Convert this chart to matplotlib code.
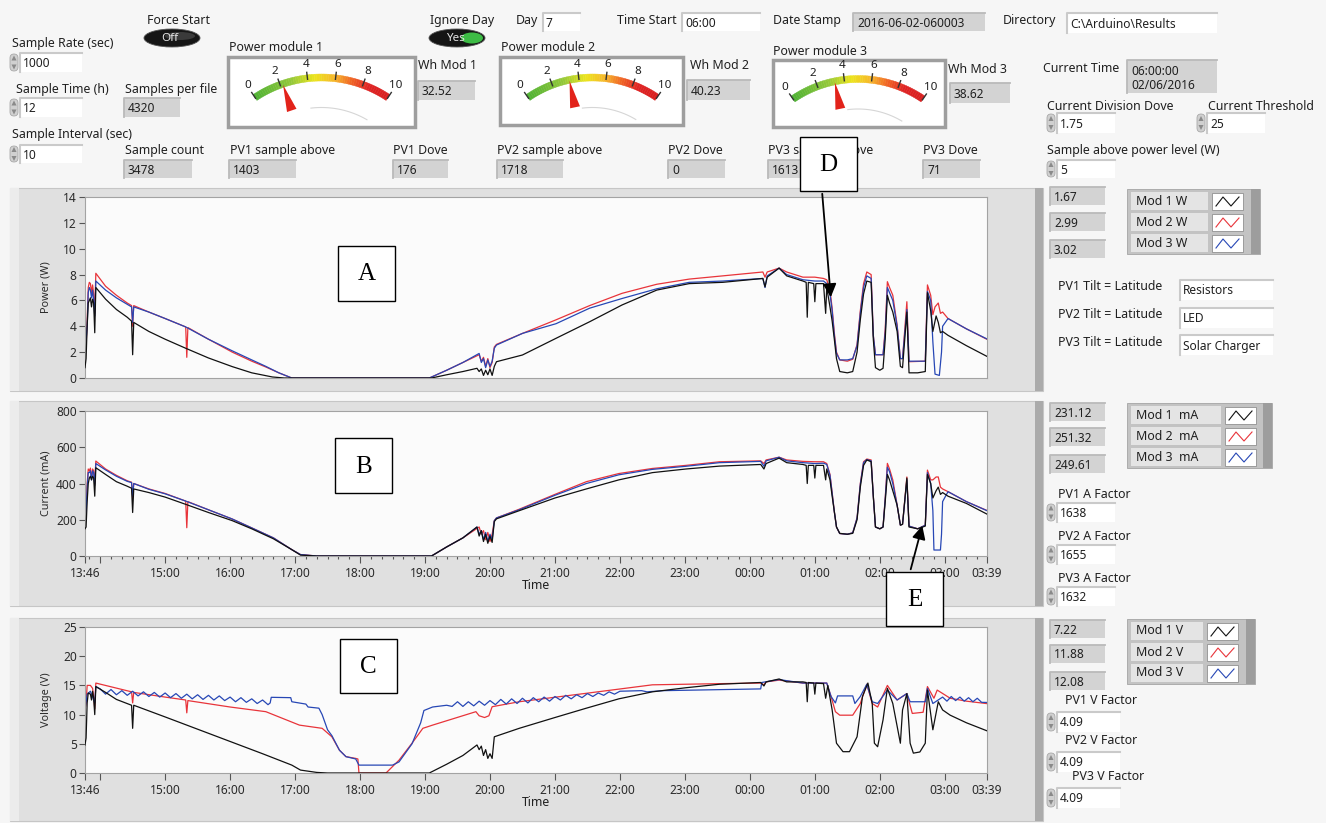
import numpy as np
import matplotlib.pyplot as plt
from matplotlib.patches import Rectangle, Polygon, Ellipse, FancyBboxPatch
from matplotlib.colors import LinearSegmentedColormap
from matplotlib.ticker import FixedLocator

plt.rcParams['font.family'] = ['Noto Sans', 'DejaVu Sans']

W, H = 1326, 823

# ---- values: (time, value) per module ----
power_mod1 = [
    ('13:46', 0.8), ('13:47', 1.5), ('13:48', 4.0), ('13:49', 5.8), ('13:50', 6.0), ('13:51', 6.2),
    ('13:52', 5.5), ('13:53', 6.1), ('13:54', 5.8), ('13:55', 3.5), ('13:56', 7.0), ('14:05', 6.1),
    ('14:15', 5.3), ('14:25', 4.7), ('14:29', 4.4), ('14:30', 1.8), ('14:31', 4.3), ('14:45', 3.6),
    ('15:00', 3.0), ('15:19', 2.3), ('15:40', 1.55), ('16:02', 0.88), ('16:20', 0.4), ('16:39', 0.08),
    ('16:50', 0.0), ('19:06', 0.0), ('19:20', 0.25), ('19:35', 0.5), ('19:48', 0.75), ('19:50', 0.5),
    ('19:52', 0.7), ('19:54', 0.2), ('19:56', 0.6), ('19:58', 0.25), ('20:00', 0.7), ('20:02', 0.2),
    ('20:04', 0.9), ('20:06', 1.26), ('20:30', 1.78), ('21:01', 3.07), ('21:32', 4.35), ('22:02', 5.65),
    ('22:34', 6.8), ('23:04', 7.3), ('23:35', 7.4), ('00:12', 7.7), ('00:14', 7.05), ('00:16', 7.8),
    ('00:27', 8.5), ('00:34', 7.9), ('00:49', 7.5), ('00:52', 7.4), ('00:53', 4.7), ('00:54', 7.4),
    ('00:59', 7.3), ('01:00', 5.9), ('01:01', 7.3), ('01:08', 7.3), ('01:10', 5.0), ('01:11', 7.0),
    ('01:14', 5.5), ('01:16', 4.4), ('01:18', 3.0), ('01:20', 1.5), ('01:23', 0.5), ('01:30', 0.4),
    ('01:35', 0.5), ('01:39', 2.0), ('01:42', 4.5), ('01:45', 6.5), ('01:48', 7.5), ('01:52', 7.4),
    ('01:54', 3.0), ('01:56', 0.8), ('02:00', 0.6), ('02:03', 0.75), ('02:05', 3.0), ('02:07', 6.4),
    ('02:09', 5.8), ('02:12', 5.1), ('02:16', 3.6), ('02:19', 0.9), ('02:21', 0.8), ('02:25', 5.1),
    ('02:27', 0.4), ('02:35', 0.4), ('02:42', 0.5), ('02:44', 6.6), ('02:47', 5.2), ('02:49', 3.6),
    ('02:52', 4.8), ('02:54', 4.3), ('02:56', 3.5), ('02:58', 3.6), ('03:03', 3.3), ('03:20', 2.5),
    ('03:39', 1.67)]
power_mod2 = [
    ('13:46', 1.9), ('13:47', 2.5), ('13:48', 4.5), ('13:49', 7.0), ('13:50', 7.4), ('13:51', 7.3),
    ('13:52', 6.6), ('13:53', 7.2), ('13:54', 6.5), ('13:55', 5.0), ('13:56', 8.1), ('14:05', 7.1),
    ('14:15', 6.4), ('14:25', 5.8), ('14:29', 5.6), ('14:30', 4.0), ('14:31', 5.6), ('14:45', 5.1),
    ('15:00', 4.6), ('15:19', 3.95), ('15:20', 1.6), ('15:21', 3.9), ('15:40', 3.0), ('16:02', 2.0),
    ('16:20', 1.3), ('16:33', 0.85), ('16:45', 0.4), ('16:57', 0.0), ('19:04', 0.0), ('19:20', 0.6),
    ('19:35', 1.2), ('19:50', 1.8), ('19:52', 1.3), ('19:54', 1.6), ('19:56', 0.9), ('19:58', 1.5),
    ('20:00', 0.8), ('20:02', 1.2), ('20:04', 2.4), ('20:06', 2.6), ('20:30', 3.45), ('21:01', 4.5),
    ('21:32', 5.6), ('22:02', 6.55), ('22:34', 7.25), ('23:04', 7.65), ('23:35', 7.9), ('00:12', 8.2),
    ('00:14', 7.8), ('00:16', 8.2), ('00:27', 8.5), ('00:34', 8.2), ('00:49', 7.8), ('01:00', 7.8),
    ('01:08', 7.7), ('01:11', 7.6), ('01:14', 6.8), ('01:16', 5.4), ('01:18', 3.5), ('01:20', 2.0),
    ('01:23', 1.4), ('01:30', 1.3), ('01:35', 1.45), ('01:39', 2.6), ('01:42', 5.2), ('01:45', 7.3),
    ('01:48', 8.2), ('01:52', 8.0), ('01:54', 3.3), ('01:56', 1.8), ('02:03', 1.8), ('02:05', 3.8),
    ('02:07', 7.45), ('02:09', 7.0), ('02:12', 6.4), ('02:16', 4.1), ('02:19', 1.5), ('02:21', 1.5),
    ('02:25', 5.9), ('02:27', 1.26), ('02:42', 1.3), ('02:44', 7.2), ('02:47', 6.4), ('02:49', 4.9),
    ('02:51', 5.5), ('02:54', 5.8), ('02:56', 5.0), ('02:58', 5.1), ('03:03', 4.6), ('03:20', 3.8),
    ('03:39', 2.99)]
power_mod3 = [
    ('13:46', 1.9), ('13:48', 4.0), ('13:49', 6.6), ('13:50', 7.0), ('13:51', 6.8), ('13:52', 6.2),
    ('13:53', 6.8), ('13:54', 6.0), ('13:55', 4.8), ('13:56', 7.5), ('14:05', 6.8), ('14:15', 6.2),
    ('14:25', 5.7), ('14:29', 5.5), ('14:30', 4.3), ('14:31', 5.5), ('14:45', 5.1), ('15:00', 4.6),
    ('15:19', 3.95), ('15:40', 3.0), ('16:02', 2.1), ('16:20', 1.4), ('16:33', 0.9), ('16:45', 0.4),
    ('16:57', 0.0), ('19:04', 0.0), ('19:20', 0.6), ('19:35', 1.2), ('19:50', 1.9), ('19:52', 1.2),
    ('19:54', 1.5), ('19:56', 0.8), ('19:58', 1.4), ('20:00', 0.9), ('20:02', 1.3), ('20:04', 2.3),
    ('20:06', 2.55), ('20:30', 3.45), ('21:01', 4.2), ('21:32', 5.4), ('22:02', 6.15), ('22:34', 6.9),
    ('23:04', 7.4), ('23:35', 7.5), ('00:12', 7.7), ('00:14', 7.0), ('00:16', 7.9), ('00:27', 8.5),
    ('00:34', 8.0), ('00:49', 7.6), ('01:00', 7.5), ('01:08', 7.5), ('01:11', 7.3), ('01:14', 6.5),
    ('01:16', 5.2), ('01:18', 3.3), ('01:20', 1.9), ('01:23', 1.4), ('01:30', 1.4), ('01:35', 1.5),
    ('01:39', 2.5), ('01:42', 5.0), ('01:45', 7.0), ('01:48', 7.9), ('01:52', 7.7), ('01:54', 3.3),
    ('01:56', 1.8), ('02:03', 1.8), ('02:05', 3.5), ('02:07', 7.0), ('02:09', 6.6), ('02:12', 6.0),
    ('02:16', 4.0), ('02:19', 1.5), ('02:21', 1.5), ('02:25', 5.3), ('02:27', 1.3), ('02:42', 1.3),
    ('02:44', 6.7), ('02:47', 6.0), ('02:49', 2.8), ('02:51', 0.3), ('02:55', 0.2), ('02:57', 2.0),
    ('02:58', 4.0), ('03:03', 4.6), ('03:20', 3.8), ('03:39', 3.02)]

current_mod1 = [
    ('13:46', 150), ('13:47', 160), ('13:48', 300), ('13:49', 400), ('13:50', 430), ('13:51', 440),
    ('13:52', 420), ('13:53', 440), ('13:54', 430), ('13:55', 330), ('13:56', 487), ('14:05', 450),
    ('14:15', 410), ('14:25', 385), ('14:29', 374), ('14:30', 240), ('14:31', 370), ('14:45', 350),
    ('15:00', 325), ('15:19', 285), ('15:40', 240), ('16:02', 195), ('16:20', 150), ('16:40', 95),
    ('16:57', 35), ('17:05', 5), ('17:20', 0), ('19:06', 0), ('19:20', 50), ('19:35', 100),
    ('19:48', 160), ('19:50', 110), ('19:52', 140), ('19:54', 80), ('19:56', 120), ('19:58', 70),
    ('20:00', 110), ('20:02', 75), ('20:04', 190), ('20:06', 205), ('20:27', 250), ('21:00', 320),
    ('21:29', 370), ('21:59', 420), ('22:30', 460), ('23:01', 480), ('23:32', 496), ('00:10', 505),
    ('00:13', 480), ('00:15', 510), ('00:27', 540), ('00:34', 515), ('00:49', 505), ('00:52', 500),
    ('00:53', 400), ('00:54', 500), ('00:59', 500), ('01:00', 430), ('01:01', 500), ('01:08', 500),
    ('01:10', 420), ('01:11', 480), ('01:14', 420), ('01:16', 330), ('01:18', 245), ('01:20', 160),
    ('01:23', 125), ('01:30', 120), ('01:35', 125), ('01:39', 200), ('01:42', 380), ('01:45', 500),
    ('01:48', 530), ('01:52', 520), ('01:54', 330), ('01:56', 160), ('02:00', 150), ('02:03', 160),
    ('02:05', 300), ('02:07', 450), ('02:09', 420), ('02:12', 360), ('02:16', 280), ('02:19', 170),
    ('02:21', 175), ('02:25', 430), ('02:27', 160), ('02:35', 150), ('02:42', 165), ('02:44', 450),
    ('02:47', 400), ('02:49', 320), ('02:52', 360), ('02:54', 380), ('02:56', 340), ('02:58', 350),
    ('03:03', 330), ('03:20', 290), ('03:39', 231)]
current_mod2 = [
    ('13:46', 150), ('13:47', 250), ('13:48', 400), ('13:49', 480), ('13:50', 470), ('13:51', 485),
    ('13:52', 430), ('13:53', 480), ('13:54', 470), ('13:55', 400), ('13:56', 524), ('14:05', 480),
    ('14:15', 445), ('14:25', 415), ('14:29', 407), ('14:30', 320), ('14:31', 400), ('14:45', 370),
    ('15:00', 345), ('15:19', 303), ('15:20', 156), ('15:21', 300), ('15:40', 255), ('16:02', 204),
    ('16:20', 155), ('16:40', 100), ('16:57', 35), ('17:05', 8), ('17:20', 0), ('19:06', 0),
    ('19:20', 50), ('19:35', 100), ('19:50', 160), ('19:52', 120), ('19:54', 140), ('19:56', 90),
    ('19:58', 130), ('20:00', 80), ('20:02', 120), ('20:04', 195), ('20:06', 210), ('20:27', 258),
    ('21:00', 340), ('21:29', 410), ('21:59', 455), ('22:30', 483), ('23:01', 500), ('23:32', 520),
    ('00:10', 525), ('00:13', 510), ('00:15', 530), ('00:27', 545), ('00:34', 530), ('00:49', 522),
    ('01:00', 520), ('01:08', 520), ('01:11', 510), ('01:14', 450), ('01:16', 350), ('01:18', 245),
    ('01:20', 160), ('01:23', 124), ('01:30', 120), ('01:35', 128), ('01:39', 210), ('01:42', 400),
    ('01:45', 520), ('01:48', 535), ('01:52', 530), ('01:54', 330), ('01:56', 160), ('02:00', 150),
    ('02:03', 160), ('02:05', 320), ('02:07', 511), ('02:09', 480), ('02:12', 420), ('02:16', 281),
    ('02:19', 171), ('02:21', 175), ('02:25', 436), ('02:27', 165), ('02:35', 150), ('02:42', 170),
    ('02:44', 474), ('02:47', 420), ('02:49', 420), ('02:52', 436), ('02:54', 436), ('02:56', 380),
    ('02:58', 370), ('03:03', 355), ('03:20', 300), ('03:39', 251)]
current_mod3 = [
    ('13:46', 150), ('13:47', 240), ('13:48', 380), ('13:49', 460), ('13:50', 460), ('13:51', 470),
    ('13:52', 420), ('13:53', 470), ('13:54', 460), ('13:55', 390), ('13:56', 510), ('14:05', 475),
    ('14:15', 440), ('14:25', 412), ('14:29', 405), ('14:30', 330), ('14:31', 400), ('14:45', 368),
    ('15:00', 343), ('15:19', 303), ('15:40', 255), ('16:02', 204), ('16:20', 155), ('16:40', 100),
    ('16:57', 35), ('17:05', 8), ('17:20', 0), ('19:06', 0), ('19:20', 50), ('19:35', 100),
    ('19:48', 160), ('19:50', 120), ('19:52', 140), ('19:54', 90), ('19:56', 130), ('19:58', 80),
    ('20:00', 120), ('20:02', 90), ('20:04', 195), ('20:06', 210), ('20:27', 255), ('21:00', 335),
    ('21:29', 400), ('21:59', 448), ('22:30', 478), ('23:01', 495), ('23:32', 515), ('00:10', 522),
    ('00:13', 495), ('00:15', 525), ('00:27', 545), ('00:34', 525), ('00:49', 515), ('01:00', 510),
    ('01:08', 512), ('01:11', 505), ('01:14', 445), ('01:16', 345), ('01:18', 245), ('01:20', 160),
    ('01:23', 124), ('01:30', 120), ('01:35', 128), ('01:39', 210), ('01:42', 395), ('01:45', 515),
    ('01:48', 532), ('01:52', 525), ('01:54', 330), ('01:56', 160), ('02:00', 150), ('02:03', 160),
    ('02:05', 315), ('02:07', 490), ('02:09', 465), ('02:12', 400), ('02:16', 280), ('02:19', 171),
    ('02:21', 175), ('02:25', 420), ('02:27', 165), ('02:35', 150), ('02:42', 170), ('02:44', 460),
    ('02:47', 400), ('02:49', 250), ('02:50', 33), ('02:56', 33), ('02:57', 120), ('02:58', 300),
    ('03:03', 355), ('03:20', 300), ('03:39', 250)]

voltage_mod1 = [
    ('13:46', 4.8), ('13:47', 6.0), ('13:48', 12.0), ('13:49', 13.7), ('13:51', 13.5), ('13:52', 12.5),
    ('13:53', 14.0), ('13:54', 12.8), ('13:55', 10.0), ('13:56', 14.8), ('14:05', 13.8), ('14:15', 12.6),
    ('14:29', 11.6), ('14:30', 7.65), ('14:31', 11.6), ('15:00', 9.6), ('15:30', 7.5), ('16:00', 5.4),
    ('16:30', 3.3), ('16:57', 1.35), ('17:05', 0.5), ('17:20', 0.1), ('17:30', 0.0), ('19:04', 0.0),
    ('19:20', 1.5), ('19:35', 3.0), ('19:48', 4.8), ('19:50', 4.0), ('19:52', 4.6), ('19:54', 3.0),
    ('19:56', 4.0), ('19:58', 2.5), ('20:00', 3.3), ('20:02', 2.5), ('20:04', 6.2), ('20:27', 7.65),
    ('21:00', 9.5), ('21:29', 11.1), ('21:59', 12.7), ('22:30', 13.9), ('23:01', 14.6), ('23:32', 15.2),
    ('00:10', 15.5), ('00:13', 14.9), ('00:15', 15.6), ('00:27', 16.1), ('00:34', 15.6), ('00:49', 15.6),
    ('00:52', 15.5), ('00:53', 12.2), ('00:54', 15.5), ('00:59', 15.4), ('01:00', 13.5), ('01:01', 15.4),
    ('01:08', 15.3), ('01:10', 12.8), ('01:12', 15.0), ('01:16', 10.8), ('01:20', 5.1), ('01:26', 3.65),
    ('01:32', 3.65), ('01:39', 6.2), ('01:44', 13.1), ('01:49', 15.4), ('01:53', 11.9), ('01:55', 5.1),
    ('01:58', 4.5), ('02:03', 9.1), ('02:07', 14.5), ('02:12', 11.9), ('02:19', 5.1), ('02:21', 10.8),
    ('02:25', 13.6), ('02:28', 5.1), ('02:31', 3.4), ('02:37', 3.6), ('02:42', 5.1), ('02:44', 14.2),
    ('02:49', 7.4), ('02:54', 12.2), ('02:58', 10.8), ('03:05', 9.9), ('03:20', 8.6), ('03:39', 7.22)]
voltage_mod2 = [
    ('13:46', 10.8), ('13:47', 12.0), ('13:48', 15.0), ('13:51', 15.0), ('13:53', 14.5), ('13:54', 13.0),
    ('13:55', 11.0), ('13:56', 15.4), ('14:29', 13.9), ('14:30', 12.0), ('14:31', 13.8), ('15:00', 13.0),
    ('15:19', 12.5), ('15:20', 10.3), ('15:21', 12.4), ('16:00', 11.3), ('16:33', 10.5), ('17:04', 8.2),
    ('17:25', 7.65), ('17:34', 6.2), ('17:41', 3.9), ('17:47', 2.8), ('17:56', 2.5), ('17:58', 2.4),
    ('17:59', 0.0), ('18:24', 0.0), ('18:36', 2.2), ('18:48', 5.1), ('18:58', 7.65), ('19:07', 8.2),
    ('19:47', 10.5), ('19:50', 9.8), ('19:55', 9.5), ('19:59', 9.8), ('20:02', 11.35), ('20:27', 12.2),
    ('21:29', 13.65), ('22:30', 15.1), ('23:32', 15.3), ('00:10', 15.4), ('00:13', 15.1), ('00:15', 15.6),
    ('00:27', 15.9), ('00:49', 15.4), ('01:11', 15.4), ('01:15', 13.1), ('01:19', 10.5), ('01:23', 9.9),
    ('01:35', 9.9), ('01:42', 11.9), ('01:48', 15.2), ('01:53', 11.9), ('01:58', 11.3), ('02:07', 15.0),
    ('02:16', 12.5), ('02:25', 13.6), ('02:30', 10.2), ('02:40', 10.4), ('02:44', 14.8), ('02:50', 12.8),
    ('02:53', 14.2), ('03:05', 12.8), ('03:20', 12.3), ('03:39', 11.88)]
voltage_mod3 = [
    ('13:46', 10.8), ('13:48', 13.5), ('13:51', 14.0), ('13:53', 13.0), ('13:55', 12.0), ('13:56', 14.8),
    ('14:00', 14.4), ('14:05', 13.5), ('14:10', 14.3), ('14:15', 13.4), ('14:20', 14.1), ('14:25', 13.3),
    ('14:30', 14.0), ('14:35', 13.2), ('14:40', 13.9), ('14:45', 13.1), ('14:50', 13.8), ('14:55', 13.0),
    ('15:00', 13.7), ('15:05', 12.9), ('15:10', 13.6), ('15:15', 12.8), ('15:20', 13.5), ('15:25', 12.7),
    ('15:30', 13.4), ('15:35', 12.6), ('15:40', 13.3), ('15:45', 12.5), ('15:50', 13.2), ('15:55', 12.4),
    ('16:00', 13.0), ('16:05', 12.2), ('16:10', 12.9), ('16:15', 12.1), ('16:20', 12.7), ('16:25', 11.9),
    ('16:30', 12.5), ('16:35', 11.7), ('16:37', 12.0), ('16:38', 12.96), ('16:56', 12.9), ('16:57', 12.2),
    ('17:10', 11.8), ('17:12', 11.3), ('17:22', 11.1), ('17:25', 10.0), ('17:30', 7.4), ('17:34', 6.4),
    ('17:41', 3.9), ('17:47', 2.8), ('17:56', 2.4), ('17:59', 1.35), ('18:30', 1.35), ('18:36', 1.9),
    ('18:48', 5.0), ('18:56', 8.6), ('18:59', 10.7), ('19:07', 11.3), ('19:20', 11.6), ('19:25', 11.4),
    ('19:30', 12.2), ('19:35', 11.4), ('19:40', 12.2), ('19:45', 11.5), ('19:50', 12.3), ('19:55', 11.6),
    ('20:00', 12.4), ('20:05', 11.7), ('20:10', 12.6), ('20:15', 11.8), ('20:20', 12.7), ('20:25', 11.9),
    ('20:30', 12.8), ('20:35', 12.0), ('20:40', 12.9), ('20:45', 12.2), ('20:50', 13.0), ('20:55', 12.3),
    ('21:00', 13.1), ('21:05', 12.5), ('21:10', 13.3), ('21:15', 12.7), ('21:20', 13.4), ('21:25', 12.9),
    ('21:30', 13.6), ('21:35', 13.1), ('21:40', 13.7), ('21:45', 13.3), ('21:50', 13.9), ('21:55', 13.5),
    ('22:00', 14.0), ('22:20', 14.1), ('22:25', 13.9), ('22:40', 14.1), ('23:10', 14.2), ('23:40', 14.3),
    ('00:10', 14.4), ('00:11', 15.5), ('00:27', 16.0), ('00:49', 15.4), ('01:11', 15.4), ('01:15', 13.1),
    ('01:19', 12.0), ('01:21', 13.2), ('01:35', 13.2), ('01:37', 11.9), ('01:42', 13.1), ('01:48', 15.2),
    ('01:53', 12.2), ('01:58', 11.9), ('02:07', 14.2), ('02:16', 12.5), ('02:25', 13.6), ('02:28', 12.2),
    ('02:42', 12.2), ('02:44', 14.5), ('02:49', 11.9), ('02:54', 12.5), ('02:58', 13.0), ('03:02', 12.3),
    ('03:06', 13.1), ('03:10', 12.4), ('03:14', 13.0), ('03:18', 12.3), ('03:22', 12.9), ('03:26', 12.2),
    ('03:30', 12.8), ('03:34', 12.1), ('03:39', 12.08)]

TIME_TICKS = ['13:46', '14:00', '15:00', '16:00', '17:00', '18:00', '19:00', '20:00', '21:00',
              '22:00', '23:00', '00:00', '01:00', '02:00', '03:00', '03:39']
TIME_LABELS = ['13:46', '', '15:00', '16:00', '17:00', '18:00', '19:00', '20:00', '21:00',
               '22:00', '23:00', '00:00', '01:00', '02:00', '03:00', '03:39']

MODULES = ['Mod 1', 'Mod 2', 'Mod 3']
last_power = ['1.67', '2.99', '3.02']
last_current = ['231.12', '251.32', '249.61']
last_voltage = ['7.22', '11.88', '12.08']
wh_mod = ['32.52', '40.23', '38.62']
GAUGE_TICKS = [0, 2, 4, 6, 8, 10]
gauge_needle = [2.2, 3.3, 3.3]

MOD_COLORS = ['#111111', '#e8343a', '#2747b5']


def hours(stamps):
    """'HH:MM' -> decimal hours; times after midnight carry on past 24"""
    out = []
    for s in stamps:
        h, m = (int(p) for p in s.split(':'))
        if h < 12:
            h += 24
        out.append(h + m / 60)
    return np.array(out)


T0, T1 = hours(['13:46', '03:39'])

fig = plt.figure(figsize=(W / 100, H / 100), dpi=100, facecolor='#f6f6f6')


def pix_axes(x0, y0, x1, y1, **kw):
    return fig.add_axes([x0 / W, 1 - y1 / H, (x1 - x0) / W, (y1 - y0) / H], **kw)


def canvas(z):
    ax = fig.add_axes([0, 0, 1, 1], zorder=z)
    ax.set_xlim(0, W)
    ax.set_ylim(H, 0)
    ax.axis('off')
    return ax


bg = canvas(0)
FS = 8.9


def label(x, y, s, **kw):
    kw.setdefault('fontsize', FS)
    kw.setdefault('color', '#202020')
    bg.text(x, y, s, va='center', ha='left', **kw)


def indicator(x0, y0, x1, y1, s):
    bg.add_patch(Rectangle((x0, y0), x1 - x0, y1 - y0, fc='#d3d3d3', ec='none'))
    bg.plot([x0, x0, x1], [y1, y0, y0], color='#bababa', lw=1.3)
    label(x0 + 4, (y0 + y1) / 2 + 1, s, fontsize=8.6)


def control(x0, y0, x1, y1, s, spin=True):
    bg.add_patch(Rectangle((x0, y0), x1 - x0, y1 - y0, fc='white', ec='none'))
    bg.plot([x0, x0, x1], [y1, y0, y0], color='#cacaca', lw=1.5)
    label(x0 + 3, (y0 + y1) / 2 + 1, s, fontsize=8.6)
    if spin:
        sx, ym = x0 - 10, (y0 + y1) / 2
        bg.add_patch(FancyBboxPatch((sx, y0 + 1), 8, y1 - y0 - 2,
                                    boxstyle='round,pad=0,rounding_size=4',
                                    fc='#d0d0d0', ec='#a8a8a8', lw=0.6))
        bg.add_patch(Polygon([[sx + 1.5, ym - 2], [sx + 6.5, ym - 2], [sx + 4, ym - 7]], fc='#8a8a8a'))
        bg.add_patch(Polygon([[sx + 1.5, ym + 2], [sx + 6.5, ym + 2], [sx + 4, ym + 7]], fc='#8a8a8a'))


GAUGE_CMAP = LinearSegmentedColormap.from_list(
    'gauge', [(0, '#4fb234'), (0.28, '#93c83a'), (0.45, '#ece51c'), (0.6, '#f7b52a'),
              (0.72, '#f06524'), (0.85, '#e02424'), (1, '#d81f1f')])


def gauge(frame, cx, y_end, half, value):
    x0, y0, x1, y1 = frame
    bg.add_patch(Rectangle((x0, y0), x1 - x0, y1 - y0, fc='white', ec='#9e9e9e', lw=2.5))
    sag = 20
    R = (half ** 2 + sag ** 2) / (2 * sag)
    cy = y_end - sag + R
    th = np.arcsin(half / R)

    def pt(v, r):
        a = -th + 2 * th * v / 10
        return cx + r * np.sin(a), cy - r * np.cos(a)

    n = 60
    for k in range(n):
        v0, v1 = 10 * k / n, 10 * (k + 1) / n
        c = GAUGE_CMAP(k / (n - 1))
        bg.add_patch(Polygon([pt(v0, R - 3.5), pt(v1, R - 3.5), pt(v1, R + 3.5), pt(v0, R + 3.5)],
                             fc=c, ec=c, lw=0.3))
    for v in GAUGE_TICKS:
        (xa, ya), (xb, yb) = pt(v, R - 1), pt(v, R + 6)
        bg.plot([xa, xb], [ya, yb], color='#333333', lw=1)
        lx, ly = pt(v, R + 14)
        bg.text(lx, ly, str(v), fontsize=8.4, ha='center', va='center', color='#202020')
    arc = np.array([pt(v, R - 30) for v in np.linspace(4, 9.5, 30)])
    bg.plot(arc[:, 0], arc[:, 1], color='#d6d6d6', lw=0.8)
    # needle
    a = -th + 2 * th * value / 10
    tip = pt(value, R - 1)
    bx, by = pt(value, R - 28)
    nx, ny = np.cos(a), np.sin(a)
    bg.add_patch(Polygon([tip, (bx - 5 * nx, by - 5 * ny), (bx + 5 * nx, by + 5 * ny)],
                         fc='#e2231a', ec='none'))


def toggle(cx, cy, s, on):
    bg.add_patch(Ellipse((cx, cy), 56, 18, fc='#151515', ec='#555555', lw=0.6))
    if on:
        bg.add_patch(Ellipse((cx + 15, cy), 22, 11, fc='#3dbb45', ec='none'))
    else:
        bg.add_patch(Ellipse((cx + 8, cy - 2), 30, 8, fc='#3a3a3a', ec='none'))
    bg.text(cx - 2, cy, s, fontsize=8.4, ha='center', va='center', color='#e6e6e6')


def panel(y0, y1):
    bg.add_patch(Rectangle((10, y0), 1033, y1 - y0, fc='#e0e0e0', ec='#c6c6c6', lw=0.8))
    bg.add_patch(Rectangle((10, y0), 9, y1 - y0, fc='#ececec', ec='none'))
    bg.add_patch(Rectangle((1035, y0), 8, y1 - y0, fc='#ababab', ec='none'))


def legend_box(x0, y0, x1, sw_x, unit):
    bg.add_patch(Rectangle((x0, y0), x1 - x0, 65, fc='#c3c3c3', ec='#a5a5a5', lw=0.6))
    bg.add_patch(Rectangle((x1 - 9, y0), 9, 65, fc='#9d9d9d', ec='none'))
    for i, (name, col) in enumerate(zip(MODULES, MOD_COLORS)):
        y = y0 + 3 + i * 21
        bg.add_patch(Rectangle((x0 + 4, y), sw_x - x0 - 8, 18, fc='#e4e4e4', ec='none'))
        label(x0 + 9, y + 9, f'{name} {unit}')
        bg.add_patch(Rectangle((sw_x, y + 1), 31, 17, fc='white', ec='#909090', lw=0.6))
        bg.plot([sw_x + 4, sw_x + 11, sw_x + 19, sw_x + 27], [y + 14, y + 5, y + 14, y + 5],
                color=col, lw=0.8)


def chart(y0, y1, series, ylim, yticks, ylabel, time_axis, minor=False):
    ax = pix_axes(85, y0, 987, y1, zorder=5)
    ax.set_facecolor('#fbfbfb')
    for pairs, col, z in zip(series, MOD_COLORS, [3, 2, 2.5]):
        t, v = zip(*pairs)
        ax.plot(hours(t), v, color=col, lw=0.9, zorder=z)
    ax.set_xlim(T0, T1)
    ax.set_ylim(*ylim)
    ax.set_yticks(yticks)
    ax.tick_params(labelsize=8.6, length=4, width=0.8, color='#555555', labelcolor='#2a2a2a', pad=2)
    for sp in ax.spines.values():
        sp.set_color('#a3a3a3')
        sp.set_linewidth(0.8)
    ax.set_ylabel(ylabel, fontsize=7.8, color='#2a2a2a')
    ax.yaxis.set_label_coords(-33 / 902, 0.5)
    if time_axis:
        ax.set_xticks(hours(TIME_TICKS))
        ax.set_xticklabels(TIME_LABELS)
        ax.tick_params(axis='x', length=5, pad=3)
        ax.set_xlabel('Time', fontsize=8.8, color='#202020')
        ax.xaxis.set_label_coords(0.5, -23 / (y1 - y0))
        if minor:
            ax.xaxis.set_minor_locator(FixedLocator(np.arange(13 + 50 / 60, T1, 1 / 6)))
            ax.tick_params(axis='x', which='minor', length=2.5, width=0.8, color='#555555')
    else:
        ax.set_xticks([])
    return ax


# ---- top controls ----
label(147, 20, 'Force Start')
toggle(172, 38, 'Off', False)
label(430, 20, 'Ignore Day')
toggle(457, 38, 'Yes', True)
label(12, 43, 'Sample Rate (sec)')
control(20, 53, 82, 72, '1000')
label(16, 89, 'Sample Time (h)')
control(20, 98, 82, 117, '12')
label(12, 134, 'Sample Interval (sec)')
control(20, 145, 82, 163, '10')
label(125, 89, 'Samples per file')
indicator(124, 98, 180, 117, '4320')
label(125, 150, 'Sample count')
indicator(124, 160, 192, 178, '3478')

label(516, 20, 'Day')
control(543, 13, 580, 31, '7', spin=False)
label(617, 20, 'Time Start')
control(682, 13, 760, 31, '06:00', spin=False)
label(773, 20, 'Date Stamp')
indicator(853, 13, 985, 31, '2016-06-02-060003')
label(1003, 20, 'Directory')
control(1067, 13, 1217, 33, 'C:\\Arduino\\Results', spin=False)

label(229, 47, 'Power module 1')
gauge((228, 57, 415, 127), 321.5, 97.5, 66.5, gauge_needle[0])
label(501, 47, 'Power module 2')
gauge((500, 57, 683, 125), 592.5, 97.5, 64.5, gauge_needle[1])
label(773, 51, 'Power module 3')
gauge((773, 60, 945, 127), 858, 99, 65, gauge_needle[2])

label(418, 65, 'Wh Mod 1')
indicator(418, 81, 475, 100, wh_mod[0])
label(690, 65, 'Wh Mod 2')
indicator(687, 80, 750, 100, wh_mod[1])
label(948, 69, 'Wh Mod 3')
indicator(950, 83, 1010, 103, wh_mod[2])

label(230, 150, 'PV1 sample above')
indicator(229, 160, 296, 178, '1403')
label(393, 150, 'PV1 Dove')
indicator(393, 160, 448, 178, '176')
label(497, 150, 'PV2 sample above')
indicator(497, 160, 563, 178, '1718')
label(668, 150, 'PV2 Dove')
indicator(668, 160, 725, 178, '0')
label(768, 150, 'PV3 sample above')
indicator(768, 160, 833, 178, '1613')
label(923, 150, 'PV3 Dove')
indicator(923, 160, 980, 178, '71')

label(1043, 68, 'Current Time')
bg.add_patch(Rectangle((1127, 60), 90, 33, fc='#d3d3d3', ec='none'))
bg.plot([1127, 1127, 1217], [93, 60, 60], color='#bababa', lw=1.3)
label(1131, 71, '06:00:00', fontsize=8.6)
label(1131, 85, '02/06/2016', fontsize=8.6)
label(1047, 106, 'Current Division Dove')
control(1057, 113, 1115, 133, '1.75')
label(1208, 106, 'Current Threshold')
control(1207, 113, 1265, 133, '25')
label(1047, 150, 'Sample above power level (W)')
control(1057, 160, 1115, 178, '5')

# ---- the three chart panels ----
panel(188, 391)
panel(401, 606)
panel(618, 821)

chart(197, 378, [power_mod1, power_mod2, power_mod3], (0, 14), range(0, 15, 2), 'Power (W)', False)
chart(411, 556, [current_mod1, current_mod2, current_mod3], (0, 800), range(0, 801, 200),
      'Current (mA)', True, minor=True)
chart(627, 773, [voltage_mod1, voltage_mod2, voltage_mod3], (0, 25), range(0, 26, 5),
      'Voltage (V)', True)

# ---- right hand side ----
for s, y in zip(last_power, [187, 213, 240]):
    indicator(1050, y, 1105, y + 18, s)
legend_box(1127, 189, 1260, 1212, 'W')
for i, s in enumerate(['Resistors', 'LED', 'Solar Charger']):
    y = 287 + i * 27.5
    label(1058, y, f'PV{i + 1} Tilt = Latitude')
    control(1180, y - 7, 1273, y + 13, s, spin=False)

for s, y in zip(last_current, [403, 428, 455]):
    indicator(1050, y, 1105, y + 18, s)
legend_box(1127, 403, 1272, 1225, ' mA')
for i, s in enumerate(['1638', '1655', '1632']):
    y = 494 + i * 42
    label(1058, y, f'PV{i + 1} A Factor')
    control(1057, y + 9, 1115, y + 28, s)

for s, y in zip(last_voltage, [620, 645, 672]):
    indicator(1050, y, 1105, y + 18, s)
legend_box(1127, 619, 1255, 1207, 'V')
for i, (lx, ly, by) in enumerate([(1065, 700, 712), (1065, 741, 752), (1072, 776, 788)]):
    label(lx, ly, f'PV{i + 1} V Factor')
    control(1057, by, 1120, by + 20, '4.09')

# ---- letter call-outs drawn over everything ----
ov = canvas(10)
for (x0, y0, x1, y1), s in [((338, 246, 395, 301), 'A'), ((335, 438, 392, 493), 'B'),
                            ((340, 639, 397, 693), 'C'), ((800, 137, 857, 191), 'D'),
                            ((886, 572, 943, 626), 'E')]:
    ov.add_patch(Rectangle((x0, y0), x1 - x0, y1 - y0, fc='white', ec='black', lw=1.0))
    ov.text((x0 + x1) / 2, (y0 + y1) / 2 + 1, s, fontsize=18, family='Liberation Serif',
            ha='center', va='center')
ov.annotate('', xy=(831, 300), xytext=(822, 191),
            arrowprops=dict(arrowstyle='-|>', color='black', lw=1.3, mutation_scale=20))
ov.annotate('', xy=(923, 523), xytext=(910, 572),
            arrowprops=dict(arrowstyle='-|>', color='black', lw=1.3, mutation_scale=20))

fig.savefig('out.png', dpi=100, facecolor=fig.get_facecolor())
